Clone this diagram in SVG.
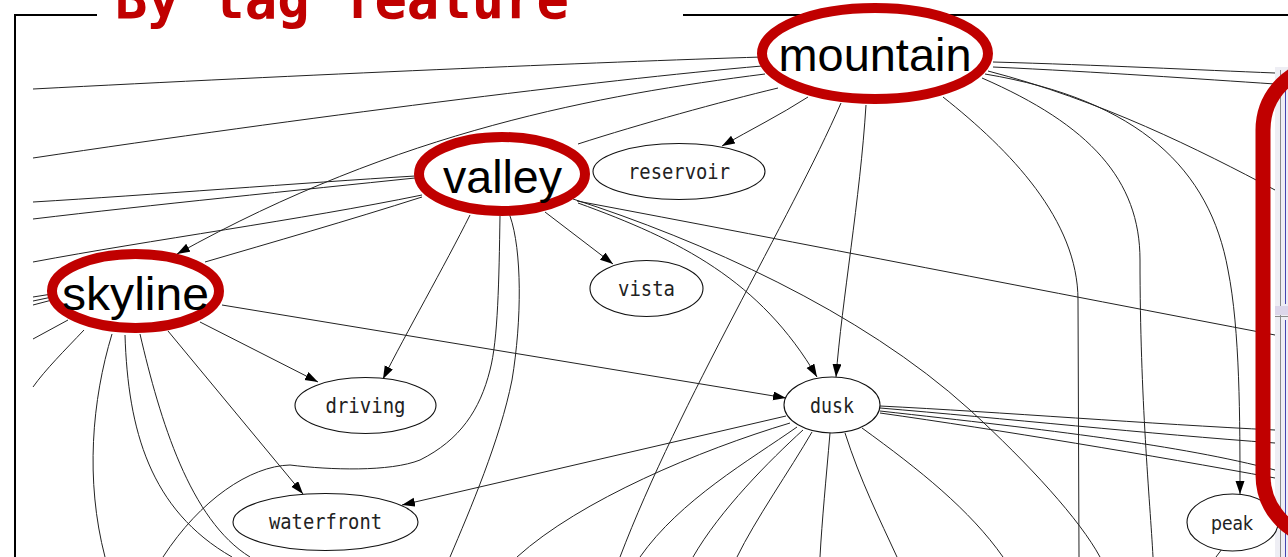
<svg xmlns="http://www.w3.org/2000/svg" width="1288" height="557" viewBox="0 0 1288 557">
  <style>
    .edge { fill: none; stroke: #222; stroke-width: 1; }
    .arr { marker-end: url(#ah); }
    .node ellipse { fill: #fff; stroke: #111; stroke-width: 1.1; }
    .node text { font-family: "DejaVu Sans Mono", "Liberation Mono", monospace; font-size: 21px; fill: #222; text-anchor: middle; }
    .big ellipse { fill: #fff; stroke: #c00000; stroke-width: 10; }
    .big text { font-family: "Liberation Sans", Arial, sans-serif; font-size: 47px; fill: #000; text-anchor: middle; }
    .frame { stroke: #000; stroke-width: 2; fill: none; }
  </style>
  <defs>
    <marker id="ah" markerUnits="userSpaceOnUse" markerWidth="14" markerHeight="10" refX="13" refY="4.5" orient="auto">
      <path d="M0,0 L13,4.5 L0,9 z" fill="#000"/>
    </marker>
  </defs>

  <rect width="1288" height="557" fill="#fff"/>

  <!-- frame and heading -->
  <g id="frame">
    <path class="frame" d="M15,557 V15 H97 M683,15 H1288"/>
    <text x="115" y="18" textLength="454" lengthAdjust="spacingAndGlyphs" font-family="DejaVu Sans Mono, Liberation Mono, monospace" font-weight="bold" font-size="56" fill="#c00000">By tag feature</text>
  </g>

  <!-- side panel on the right -->
  <g id="side-panel">
    <rect x="1275" y="67" width="14" height="492" fill="#eeeef4"/>
    <line x1="1280.5" y1="70" x2="1280.5" y2="557" stroke="#8a8a8a"/>
    <line x1="1285.5" y1="80" x2="1285.5" y2="304" stroke="#4545b0"/>
    <rect x="1275" y="306" width="14" height="9" fill="#dcd6ea"/>
    <line x1="1275" y1="316.5" x2="1288" y2="316.5" stroke="#8a8a8a"/>
    <line x1="1285.5" y1="320" x2="1285.5" y2="557" stroke="#4545b0"/>
  </g>

  <g id="edges">
    <!-- from mountain -->
    <path class="edge" d="M762,57 C600,62 300,75 33,89"/>
    <path class="edge" d="M762,66 C600,80 300,118 33,158"/>
    <path class="edge arr" d="M765,74 C600,95 400,130 177,254"/>
    <path class="edge" d="M778,88 C720,102 640,124 578,144"/>
    <path class="edge arr" d="M808,97 C780,115 750,130 722,146"/>
    <path class="edge" d="M841,103 C790,220 680,400 620,557"/>
    <path class="edge arr" d="M866,105 C860,200 842,300 836,377"/>
    <path class="edge" d="M943,97 C1010,150 1078,220 1078,300 L1079,557"/>
    <path class="edge" d="M982,78 C1090,125 1140,180 1140,260 C1140,400 1150,500 1153,557"/>
    <path class="edge arr" d="M985,74 C1140,100 1210,170 1228,270 C1240,330 1240,420 1240,494"/>
    <path class="edge" d="M988,71 C1100,100 1200,150 1275,190"/>
    <path class="edge" d="M993,62 C1100,65 1200,70 1275,73"/>
    <path class="edge" d="M993,67 C1100,72 1200,79 1275,84"/>

    <!-- from valley -->
    <path class="edge" d="M415,176 C300,183 150,195 33,202"/>
    <path class="edge" d="M415,178 C300,190 150,205 33,219"/>
    <path class="edge" d="M422,195 C300,220 150,240 33,262"/>
    <path class="edge" d="M422,197 C350,220 270,243 205,262"/>
    <path class="edge arr" d="M470,215 C445,265 405,335 383,379"/>
    <path class="edge" d="M500,216 C499,280 498,340 490,370 C480,410 460,440 420,460 C390,472 330,470 290,465 C250,466 200,500 163,557"/>
    <path class="edge" d="M510,216 C522,250 522,320 512,380 C500,440 470,510 450,557"/>
    <path class="edge arr" d="M545,212 L613,264"/>
    <path class="edge arr" d="M578,203 C680,240 760,280 817,377"/>
    <path class="edge" d="M577,201 C800,243 1050,292 1275,335"/>
    <path class="edge" d="M573,199 C700,240 860,310 970,410 C1030,465 1080,520 1100,557"/>

    <!-- from skyline -->
    <path class="edge arr" d="M222,305 L786,398"/>
    <path class="edge arr" d="M200,322 L318,382"/>
    <path class="edge arr" d="M168,331 L303,494"/>
    <path class="edge" d="M112,334 C92,400 85,480 105,557"/>
    <path class="edge" d="M125,335 C128,430 150,510 232,557"/>
    <path class="edge" d="M140,334 C160,420 190,520 250,557"/>
    <path class="edge" d="M68,320 L33,339"/>
    <path class="edge" d="M84,330 C65,350 45,370 33,387"/>
    <path class="edge" d="M33,297 L52,294"/>
    <path class="edge" d="M33,301 L52,297"/>
    <path class="edge" d="M33,305 L52,300"/>

    <!-- from dusk -->
    <path class="edge arr" d="M786,416 L402,505"/>
    <path class="edge" d="M790,423 C700,450 580,500 517,557"/>
    <path class="edge" d="M797,427 C750,460 680,500 640,557"/>
    <path class="edge" d="M803,430 C770,460 720,510 693,557"/>
    <path class="edge" d="M812,432 C790,470 755,520 737,557"/>
    <path class="edge" d="M830,433 C826,480 822,520 820,557"/>
    <path class="edge" d="M845,433 C860,480 880,520 897,557"/>
    <path class="edge" d="M862,428 C920,470 970,510 1003,557"/>
    <path class="edge" d="M880,406 C1000,412 1150,424 1275,430"/>
    <path class="edge" d="M880,408 C1000,418 1150,434 1275,443"/>
    <path class="edge" d="M880,411 C1050,430 1180,445 1275,470"/>
    <path class="edge" d="M880,413 C1000,430 1150,455 1275,478"/>

    <!-- from peak -->
    <path class="edge" d="M1222,549 L1216,557"/>
  </g>

  <g id="reservoir" class="node">
    <ellipse cx="679" cy="171.5" rx="86" ry="28"/>
    <text x="679" y="178.5" textLength="102" lengthAdjust="spacingAndGlyphs">reservoir</text>
  </g>
  <g id="vista" class="node">
    <ellipse cx="646.5" cy="288.5" rx="56.5" ry="28"/>
    <text x="646.5" y="295.5" textLength="57" lengthAdjust="spacingAndGlyphs">vista</text>
  </g>
  <g id="driving" class="node">
    <ellipse cx="365.5" cy="405.5" rx="70.5" ry="28"/>
    <text x="365.5" y="412.5" textLength="80" lengthAdjust="spacingAndGlyphs">driving</text>
  </g>
  <g id="waterfront" class="node">
    <ellipse cx="325.5" cy="522" rx="92.5" ry="28.5"/>
    <text x="325.5" y="528.5" textLength="113" lengthAdjust="spacingAndGlyphs">waterfront</text>
  </g>
  <g id="dusk" class="node">
    <ellipse cx="832" cy="405" rx="48" ry="28"/>
    <text x="832" y="412.5" textLength="44" lengthAdjust="spacingAndGlyphs">dusk</text>
  </g>
  <g id="peak" class="node">
    <ellipse cx="1232.5" cy="522.5" rx="45.5" ry="28.5"/>
    <text x="1232" y="529.5" textLength="42" lengthAdjust="spacingAndGlyphs" style="font-family: 'DejaVu Sans', 'Liberation Sans', sans-serif; font-size: 20px;">peak</text>
  </g>

  <g id="mountain" class="big">
    <ellipse cx="875" cy="53.5" rx="113" ry="45.5"/>
    <text x="875" y="71" textLength="193" lengthAdjust="spacingAndGlyphs">mountain</text>
  </g>
  <g id="valley" class="big">
    <ellipse cx="502" cy="174" rx="83" ry="37"/>
    <text x="502.5" y="193" textLength="119" lengthAdjust="spacingAndGlyphs">valley</text>
  </g>
  <g id="skyline" class="big">
    <ellipse cx="135.5" cy="291" rx="83.5" ry="37"/>
    <text x="135.5" y="310" textLength="147" lengthAdjust="spacingAndGlyphs">skyline</text>
  </g>

  <!-- highlight round the side panel -->
  <rect id="panel-highlight" x="1263" y="65" width="200" height="475" rx="65" ry="65" fill="none" stroke="#c00000" stroke-width="15"/>
</svg>
